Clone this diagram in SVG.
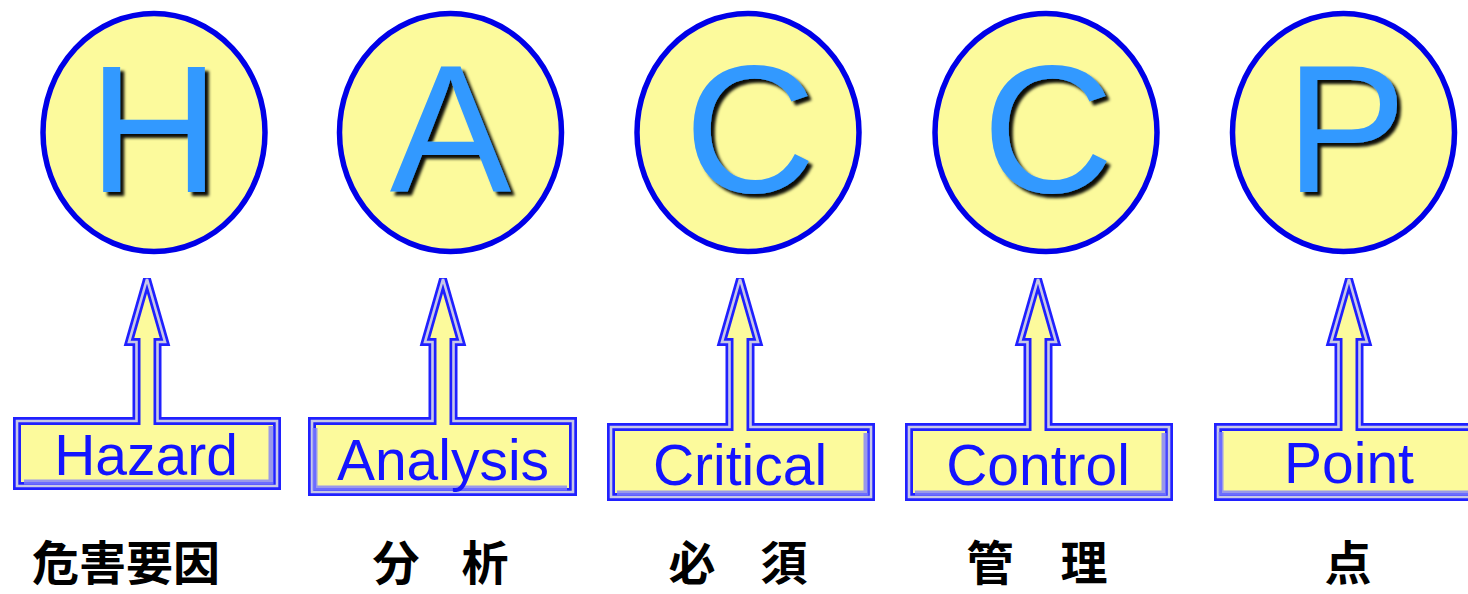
<svg xmlns="http://www.w3.org/2000/svg" width="1468" height="594" viewBox="0 0 1468 594">
<defs>
<filter id="sh" x="-20%" y="-20%" width="150%" height="150%">
<feDropShadow dx="4" dy="4" stdDeviation="1.6" flood-color="#000" flood-opacity="0.95"/>
</filter>
</defs>
<style>
.circ{fill:#fcfa9c;stroke:#0000e8;stroke-width:5.5}
.big{font-family:"Liberation Sans",Arial,sans-serif;font-size:182px;fill:#3399ff;text-anchor:middle;filter:url(#sh)}
.lbl{fill:#fcfa9c;stroke:#2020ff;stroke-width:8;stroke-linejoin:miter;stroke-miterlimit:2}
.lbl2{fill:none;stroke:#c8c8e6;stroke-width:2.6;stroke-linejoin:miter;stroke-miterlimit:2}
.bev{fill:none;stroke:#8080ff;stroke-width:5}
.en{font-family:"Liberation Sans",Arial,sans-serif;font-size:57px;fill:#1414ff;text-anchor:middle}
.jp{font-family:"Noto Sans CJK JP","Noto Sans CJK SC",sans-serif;font-size:47px;font-weight:bold;fill:#000;text-anchor:middle}
</style>
<g id="node-H">
<ellipse class="circ" cx="154" cy="132.5" rx="111" ry="119"/>
<text class="big" x="154" y="192">H</text>
</g>
<g id="node-A">
<ellipse class="circ" cx="450.5" cy="132.5" rx="111" ry="119"/>
<text class="big" x="450.5" y="192">A</text>
</g>
<g id="node-C1">
<ellipse class="circ" cx="748" cy="132.5" rx="111" ry="119"/>
<text class="big" x="750" y="192">C</text>
</g>
<g id="node-C2">
<ellipse class="circ" cx="1046" cy="132.5" rx="111" ry="119"/>
<text class="big" x="1048" y="192">C</text>
</g>
<g id="node-P">
<ellipse class="circ" cx="1343.5" cy="132.5" rx="111" ry="119"/>
<text class="big" x="1346" y="192">P</text>
</g>
<g id="connectors">
<g id="label-hazard">
<path class="lbl" d="M17 421 H136.5 V342 H129 L147 279 L165 342 H157.5 V421 H277 V486 H17 Z"/>
<path class="lbl2" d="M17 421 H136.5 V342 H129 L147 279 L165 342 H157.5 V421 H277 V486 H17 Z"/>
<path class="bev" d="M24 482 H271 V426" opacity="0.8"/>
<text class="en" x="146" y="475">Hazard</text>
</g>
<g id="label-analysis">
<path class="lbl" d="M312 421 H432.5 V342 H425 L443 279 L461 342 H453.5 V421 H573 V492 H312 Z"/>
<path class="lbl2" d="M312 421 H432.5 V342 H425 L443 279 L461 342 H453.5 V421 H573 V492 H312 Z"/>
<path class="bev" d="M315 428 V488 H567" opacity="0.8"/>
<text class="en" x="443" y="480">Analysis</text>
</g>
<g id="label-critical">
<path class="lbl" d="M611 427 H729.5 V342 H722 L740 279 L758 342 H750.5 V427 H871 V497 H611 Z"/>
<path class="lbl2" d="M611 427 H729.5 V342 H722 L740 279 L758 342 H750.5 V427 H871 V497 H611 Z"/>
<path class="bev" d="M617 493 H866 V433" opacity="0.8"/>
<text class="en" x="740" y="485">Critical</text>
</g>
<g id="label-control">
<path class="lbl" d="M909 427 H1027.5 V342 H1020 L1038 279 L1056 342 H1048.5 V427 H1169 V497 H909 Z"/>
<path class="lbl2" d="M909 427 H1027.5 V342 H1020 L1038 279 L1056 342 H1048.5 V427 H1169 V497 H909 Z"/>
<path class="bev" d="M915 493 H1164 V433" opacity="0.8"/>
<text class="en" x="1038" y="485">Control</text>
</g>
<g id="label-point">
<path class="lbl" d="M1218 427 H1338.5 V342 H1331 L1349 279 L1367 342 H1359.5 V427 H1476 V497 H1218 Z"/>
<path class="lbl2" d="M1218 427 H1338.5 V342 H1331 L1349 279 L1367 342 H1359.5 V427 H1476 V497 H1218 Z"/>
<path class="bev" d="M1221 432 V493 H1470" opacity="0.8"/>
<text class="en" x="1349" y="483">Point</text>
</g>
</g>
<g id="jp-labels">
<text class="jp" x="126" y="580">危害要因</text>
<text class="jp" x="396 441 485" y="580">分 析</text>
<text class="jp" x="692 740 784" y="580">必 須</text>
<text class="jp" x="990 1037 1084" y="580">管 理</text>
<text class="jp" x="1348" y="580">点</text>
</g>
</svg>
